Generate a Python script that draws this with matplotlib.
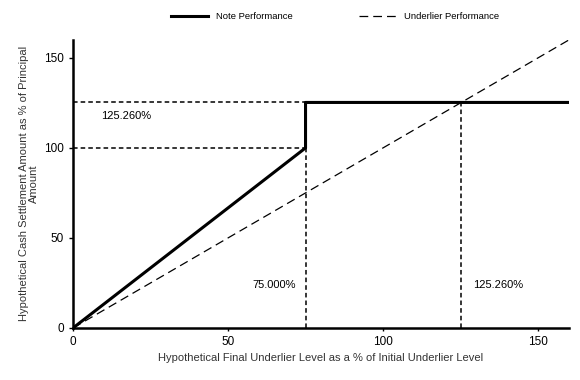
import numpy as np
import matplotlib.pyplot as plt

plt.rcParams['font.family'] = ['Liberation Sans', 'DejaVu Sans']

# data
underlier = [0, 160]
note_x = [0, 75, 75, 160]
note_y = [0, 100, 125.26, 125.26]
ref_levels = [100, 125.26]
ref_x = [75, 125.26]

fig = plt.figure(figsize=(5.8, 3.8), dpi=100)
ax = fig.add_axes([0.126, 0.137, 0.855, 0.758])

ax.plot(note_x, note_y, color='black', lw=2.2, label='Note Performance')
ax.plot(underlier, underlier, color='black', lw=0.9, ls=(0, (7, 4)), label='Underlier Performance')

# reference lines
for lv in ref_levels:
    ax.plot([0, 75], [lv, lv], color='black', lw=1.1, ls=(0, (3, 2)))
ax.plot([75, 75], [0, 100], color='black', lw=1.1, ls=(0, (3, 2)))
ax.plot([125.26, 125.26], [0, 125.26], color='black', lw=1.1, ls=(0, (3, 2)))

ax.text(17, 118, '125.260%', fontsize=8, ha='center', va='center')
ax.text(65, 24, '75.000%', fontsize=8, ha='center', va='center')
ax.text(137, 24, '125.260%', fontsize=8, ha='center', va='center')

ax.set_xlim(0, 160)
ax.set_ylim(0, 160)
ax.set_xticks([0, 50, 100, 150])
ax.set_yticks([0, 50, 100, 150])
ax.spines['top'].set_visible(False)
ax.spines['right'].set_visible(False)
ax.spines['left'].set_linewidth(1.8)
ax.spines['bottom'].set_linewidth(1.8)
ax.tick_params(axis='both', labelsize=8.5, colors='black', length=3, width=1)
ax.tick_params(axis='x', length=2)

ax.set_xlabel('Hypothetical Final Underlier Level as a % of Initial Underlier Level',
              fontsize=8, color='#333333')
ax.set_ylabel('Hypothetical Cash Settlement Amount as % of Principal\nAmount',
              fontsize=8, color='#333333', linespacing=1.0)

ax.legend(loc='center', bbox_to_anchor=(0.528, 1.08), ncol=2, frameon=False,
          fontsize=6.8, handlelength=4, columnspacing=7.0)

fig.savefig('out.png', dpi=100)
